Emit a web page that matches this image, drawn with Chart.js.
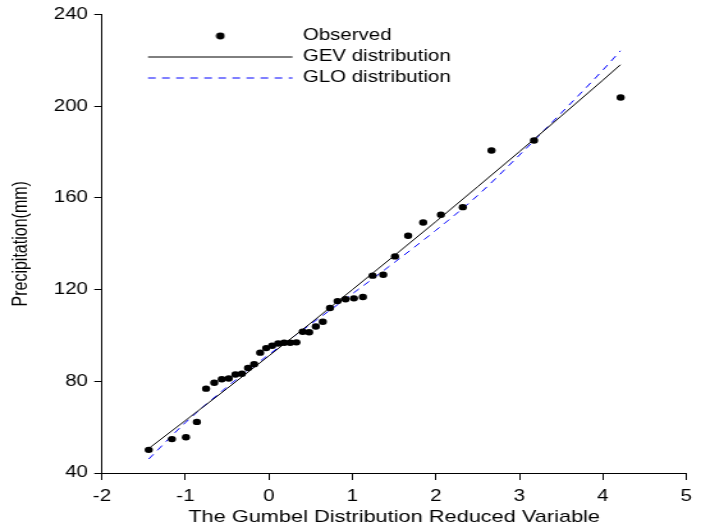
<!DOCTYPE html>
<html>
<head>
<meta charset="utf-8">
<script src="https://cdn.jsdelivr.net/npm/chart.js@4/dist/chart.umd.min.js"></script>
<style>
  html, body { margin: 0; padding: 0; background: #fff; overflow: hidden; }
  #wrap { position: absolute; left: 0; top: 0; width: 548px; height: 528px;
          transform: scaleX(1.2792); transform-origin: 0 0; }
</style>
</head>
<body>
<div id="wrap"><canvas id="c" width="548" height="528"></canvas></div>
<script>
const reducedVariate = [-1.440, -1.162, -0.994, -0.863, -0.753, -0.655, -0.565, -0.481, -0.401, -0.324,
  -0.250, -0.177, -0.105, -0.033, 0.038, 0.110, 0.182, 0.255, 0.329, 0.405,
  0.482, 0.562, 0.645, 0.731, 0.822, 0.917, 1.018, 1.126, 1.242, 1.369,
  1.510, 1.667, 1.848, 2.060, 2.322, 2.666, 3.175, 4.213];
// Observed precipitation (mm)
const observedPrecip = [50.1, 54.8, 55.6, 62.3, 76.8, 79.4, 80.9, 81.2, 83.0, 83.3,
  85.8, 87.5, 92.5, 94.5, 95.5, 96.5, 96.8, 96.8, 97.0, 101.6,
  101.4, 103.9, 106.0, 112.0, 115.0, 115.8, 116.2, 116.8, 126.1, 126.5,
  134.5, 143.5, 149.3, 152.7, 156.0, 180.7, 185.1, 203.8];
// Fitted distribution curves
const curveX   = [-1.44, -1, -0.5, 0, 0.5, 1, 1.5, 2, 2.5, 3, 3.5, 4, 4.21];
const gevCurve = [50.7, 62.9, 76.9, 91.1, 105.4, 120.0, 134.8, 149.7, 164.9, 180.2, 195.7, 211.4, 218.1];
const gloCurve = [46.1, 62.0, 77.6, 91.7, 104.9, 118.2, 131.8, 145.9, 161.1, 178.7, 197.0, 215.8, 224.2];
// Axis ticks
const xTicks = [-2, -1, 0, 1, 2, 3, 4, 5];
const yTicks = [40, 80, 120, 160, 200, 240];
const seriesNames = ['Observed', 'GEV distribution', 'GLO distribution'];

const toPts = (xs, ys) => xs.map((x, i) => ({ x: x, y: ys[i] }));

Chart.defaults.font.family = "'Liberation Sans', Arial, sans-serif";
Chart.defaults.font.size = 16;
Chart.defaults.color = '#000';

const dotImg = document.createElement('canvas');
dotImg.width = 8; dotImg.height = 8;
(function () {
  const g = dotImg.getContext('2d');
  g.fillStyle = '#000';
  g.beginPath(); g.arc(4, 4, 3.4, 0, Math.PI * 2); g.fill();
})();

const legendPlacer = {
  id: 'legendPlacer',
  afterLayout(chart) {
    const lg = chart.legend;
    if (!lg) return;
    lg.left = 110.7;
    lg.top = 23;
    lg.right = lg.left + 400;
    lg.bottom = lg.top + 200;
  }
};

new Chart(document.getElementById('c'), {
  type: 'scatter',
  data: {
    datasets: [
      {
        label: seriesNames[0],
        data: toPts(reducedVariate, observedPrecip),
        showLine: false,
        pointRadius: 3.2,
        pointHoverRadius: 3.2,
        pointBackgroundColor: '#000',
        pointBorderWidth: 0,
        backgroundColor: '#000',
        borderColor: '#000'
      },
      {
        label: seriesNames[1],
        data: toPts(curveX, gevCurve),
        showLine: true,
        borderColor: '#000',
        backgroundColor: '#000',
        borderWidth: 1,
        pointRadius: 0,
        cubicInterpolationMode: 'monotone'
      },
      {
        label: seriesNames[2],
        data: toPts(curveX, gloCurve),
        showLine: true,
        borderColor: '#0000ff',
        backgroundColor: '#0000ff',
        borderWidth: 1,
        borderDash: [6, 5],
        pointRadius: 0,
        cubicInterpolationMode: 'monotone'
      }
    ]
  },
  options: {
    responsive: false,
    animation: false,
    devicePixelRatio: 1,
    layout: { padding: { top: 13, right: 8.6, bottom: 0, left: 0 } },
    plugins: {
      tooltip: { enabled: false },
      legend: {
        position: 'chartArea',
        align: 'start',
        labels: {
          usePointStyle: true,
          pointStyleWidth: 113,
          boxHeight: 16,
          padding: 5,
          color: '#000',
          font: { size: 16 },
          generateLabels(chart) {
            const items = Chart.defaults.plugins.legend.labels.generateLabels(chart);
            const ds = chart.data.datasets;
            items[0].pointStyle = dotImg;
            for (let i = 1; i < items.length; i++) {
              items[i].pointStyle = 'line';
              items[i].strokeStyle = ds[i].borderColor;
              items[i].lineWidth = ds[i].borderWidth;
              items[i].lineDash = ds[i].borderDash || [];
            }
            return items;
          }
        }
      }
    },
    scales: {
      x: {
        type: 'linear',
        position: 'bottom',
        min: xTicks[0],
        max: xTicks[xTicks.length - 1],
        afterBuildTicks(scale) { scale.ticks = xTicks.map(v => ({ value: v })); },
        afterFit(scale) { scale.height = 55; },
        ticks: { padding: 7, color: '#000', font: { size: 16 } },
        grid: { display: true, drawOnChartArea: false, drawTicks: true, tickLength: 7, tickColor: '#000', tickWidth: 1 },
        border: { display: true, color: '#000', width: 1 },
        title: { display: true, text: 'The Gumbel Distribution Reduced Variable', color: '#000',
                 font: { size: 17 }, padding: { top: 0, bottom: 0 } }
      },
      y: {
        type: 'linear',
        min: yTicks[0],
        max: yTicks[yTicks.length - 1],
        afterBuildTicks(scale) { scale.ticks = yTicks.map(v => ({ value: v })); },
        afterFit(scale) { scale.width = 79.7; },
        ticks: { padding: 5, color: '#000', font: { size: 16 } },
        grid: { display: true, drawOnChartArea: false, drawTicks: true, tickLength: 6, tickColor: '#000', tickWidth: 1 },
        border: { display: true, color: '#000', width: 1 },
        title: { display: true, text: 'Precipitation(mm)', color: '#000',
                 font: { size: 16 }, padding: { top: 7, bottom: 0 } }
      }
    }
  },
  plugins: [legendPlacer]
});
</script>
</body>
</html>
